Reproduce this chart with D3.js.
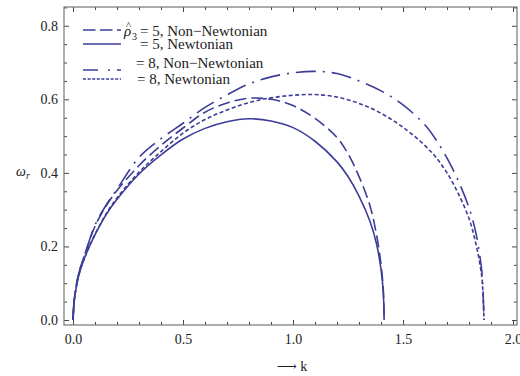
<!DOCTYPE html>
<html>

    <head>
        <meta charset="UTF-8">
        <title>omega_r against k</title>
        <script src="https://d3js.org/d3.v7.min.js"></script>
        <style>
            body {
                margin: 0;
                background: #fff;
            }

            .chart text {
                font-family: "Liberation Serif", "DejaVu Serif", serif;
                font-size: 14px;
                fill: #222;
            }
        </style>
    </head>

    <body>
        <div class="chart"></div>

        <script>

            // rho3 = 5 curves, both end near k = 1.414
            var k5 = [0, 0.005, 0.015, 0.03, 0.06, 0.1, 0.15, 0.2, 0.3, 0.4, 0.5, 0.6, 0.7, 0.8, 0.9,
                1.0, 1.1, 1.2, 1.25, 1.3, 1.35, 1.38, 1.4, 1.41, 1.414];
            var nonNewtonian5 = [0, 0.05, 0.095, 0.135, 0.19, 0.255, 0.31, 0.352, 0.42, 0.475, 0.522, 0.565, 0.59, 0.603, 0.6,
                0.583, 0.548, 0.496, 0.452, 0.39, 0.31, 0.23, 0.15, 0.085, 0];
            var newtonian5 = [0, 0.05, 0.09, 0.13, 0.18, 0.232, 0.286, 0.328, 0.397, 0.449, 0.492, 0.521, 0.539, 0.547, 0.541,
                0.523, 0.486, 0.43, 0.39, 0.337, 0.268, 0.206, 0.137, 0.078, 0];

            // rho3 = 8 curves, both end near k = 1.868
            var k8 = [0, 0.005, 0.015, 0.03, 0.06, 0.1, 0.15, 0.2, 0.3, 0.4, 0.5, 0.6, 0.7, 0.8, 0.9,
                1.0, 1.1, 1.2, 1.3, 1.4, 1.5, 1.6, 1.65, 1.7, 1.75, 1.8, 1.83, 1.85, 1.86, 1.868];
            var nonNewtonian8 = [0, 0.05, 0.095, 0.135, 0.19, 0.258, 0.312, 0.356, 0.442, 0.493, 0.535, 0.578, 0.612, 0.642, 0.661,
                0.672, 0.676, 0.67, 0.65, 0.623, 0.585, 0.53, 0.49, 0.44, 0.38, 0.305, 0.24, 0.17, 0.12, 0];
            var newtonian8 = [0, 0.05, 0.09, 0.13, 0.18, 0.233, 0.288, 0.332, 0.402, 0.458, 0.508, 0.545, 0.571, 0.591, 0.604,
                0.611, 0.613, 0.606, 0.589, 0.562, 0.524, 0.474, 0.442, 0.4, 0.345, 0.276, 0.21, 0.15, 0.105, 0];

            var xTicks = [0, 0.5, 1, 1.5, 2];
            var yTicks = [0, 0.2, 0.4, 0.6, 0.8];
            var legendLabels = ["= 5, Non\u2212Newtonian", "= 5, Newtonian", "= 8, Non\u2212Newtonian", "= 8, Newtonian"];

            var width = 520,
                    height = 376;
            var plotLeft = 64, plotRight = 517, plotTop = 7, plotBottom = 325;
            var lineColor = "#3d3d99";

            var svg = d3.select(".chart").append("svg")
                    .attr("width", width)
                    .attr("height", height);

            var x = d3.scaleLinear().domain([-0.041, 2.018]).range([plotLeft, plotRight]);
            var y = d3.scaleLinear().domain([-0.0136, 0.851]).range([plotBottom, plotTop]);

            // minor ticks every 0.1 on k and 0.05 on omega
            var xMinor = d3.range(0, 2.001, 0.1).filter(function (d) {
                return Math.abs(d * 2 - Math.round(d * 2)) > 1e-6;
            });
            var yMinor = d3.range(0, 0.851, 0.05).filter(function (d) {
                return Math.abs(d * 5 - Math.round(d * 5)) > 1e-6;
            });

            function drawAxis(axis, tx, ty, size, values, labels) {
                var g = svg.append("g")
                        .attr("transform", "translate(" + tx + "," + ty + ")")
                        .call(axis.tickValues(values).tickSize(size)
                                .tickFormat(labels ? d3.format(".1f") : ""));
                g.select(".domain").remove();
                g.selectAll("line").attr("stroke", "#444");
                g.selectAll("text").attr("font-family", null).attr("font-size", null).attr("fill", null);
                return g;
            }

            // ticks point inward on all four sides
            drawAxis(d3.axisBottom(x).tickPadding(9), 0, plotBottom, -5, xTicks, true);
            drawAxis(d3.axisBottom(x), 0, plotBottom, -3, xMinor, false);
            drawAxis(d3.axisTop(x), 0, plotTop, -5, xTicks, false);
            drawAxis(d3.axisTop(x), 0, plotTop, -3, xMinor, false);
            drawAxis(d3.axisLeft(y).tickPadding(6), plotLeft, 0, -5, yTicks, true);
            drawAxis(d3.axisLeft(y), plotLeft, 0, -3, yMinor, false);
            drawAxis(d3.axisRight(y), plotRight, 0, -5, yTicks, false);
            drawAxis(d3.axisRight(y), plotRight, 0, -3, yMinor, false);

            svg.append("rect")
                    .attr("x", plotLeft).attr("y", plotTop)
                    .attr("width", plotRight - plotLeft).attr("height", plotBottom - plotTop)
                    .attr("fill", "none")
                    .attr("stroke", "#777")
                    .attr("stroke-width", 1.2);

            svg.append("clipPath").attr("id", "plotArea")
                    .append("rect")
                    .attr("x", plotLeft).attr("y", plotTop)
                    .attr("width", plotRight - plotLeft).attr("height", plotBottom - plotTop);

            var series = [
                {k: k5, w: nonNewtonian5, dash: "12,5"},
                {k: k5, w: newtonian5, dash: null},
                {k: k8, w: nonNewtonian8, dash: "20,7,2,7"},
                {k: k8, w: newtonian8, dash: "4,2.5"}
            ];

            var line = d3.line()
                    .x(function (d) { return x(d[0]); })
                    .y(function (d) { return y(d[1]); })
                    .curve(d3.curveCatmullRom.alpha(0.5));

            svg.append("g").attr("clip-path", "url(#plotArea)")
                    .selectAll("path")
                    .data(series)
                    .enter().append("path")
                    .attr("d", function (s) {
                        return line(d3.zip(s.k, s.w));
                    })
                    .attr("fill", "none")
                    .attr("stroke", lineColor)
                    .attr("stroke-width", 1.6)
                    .attr("stroke-dasharray", function (s) { return s.dash; });

            // legend
            var legendDash = ["12.5,4.5", null, "15,10,2,7", "3,1.6"];
            var legendLineY = [30, 44, 70, 79];
            var legendTextY = [36, 49, 68, 84];
            var legendTextX = [140, 140, 136, 137];

            var legend = svg.append("g");
            legend.selectAll("line")
                    .data(legendLabels)
                    .enter().append("line")
                    .attr("x1", 83).attr("x2", 121)
                    .attr("y1", function (d, i) { return legendLineY[i]; })
                    .attr("y2", function (d, i) { return legendLineY[i]; })
                    .attr("stroke", lineColor)
                    .attr("stroke-width", 1.6)
                    .attr("stroke-dasharray", function (d, i) { return legendDash[i]; });

            legend.selectAll("text.lab")
                    .data(legendLabels)
                    .enter().append("text")
                    .attr("class", "lab")
                    .attr("x", function (d, i) { return legendTextX[i]; })
                    .attr("y", function (d, i) { return legendTextY[i]; })
                    .style("font-size", "15px")
                    .text(function (d) { return d; });

            // rho hat with subscript 3 in front of the first entry
            legend.append("text").attr("x", 124).attr("y", 36).attr("font-style", "italic").style("font-size", "15px").text("\u03c1");
            legend.append("text").attr("x", 126).attr("y", 29).style("font-size", "11px").text("^");
            legend.append("text").attr("x", 132).attr("y", 40).style("font-size", "10px").text("3");

            // axis titles
            var yTitle = svg.append("text").attr("x", 16).attr("y", 176);
            yTitle.append("tspan").attr("font-style", "italic").text("\u03c9");
            yTitle.append("tspan").attr("font-style", "italic").attr("dy", 3).style("font-size", "10px").text("r");

            svg.append("text")
                    .attr("x", 292).attr("y", 371)
                    .attr("text-anchor", "middle")
                    .text("\u27f6 k");

        </script>

    </body>

</html>
